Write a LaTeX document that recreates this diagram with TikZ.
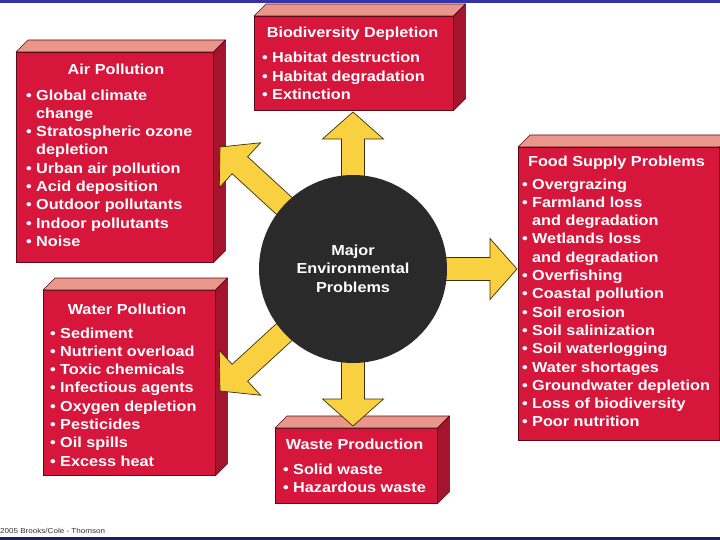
\documentclass[tikz,border=0pt]{standalone}
\usepackage{fontspec}
\setmainfont{Liberation Sans}
\newfontfamily\boxfont[FakeStretch=1.12]{Liberation Sans}
\usetikzlibrary{calc}
\pgfdeclarelayer{foreground}
\pgfsetlayers{main,foreground}
\definecolor{frontred}{HTML}{D6163B}
\definecolor{topsalmon}{HTML}{E9978A}
\definecolor{sidered}{HTML}{A3142E}
\definecolor{edgered}{HTML}{5A0A17}
\definecolor{arrowyel}{HTML}{F9D040}
\definecolor{arrowedge}{HTML}{3E2E06}
\definecolor{circgray}{HTML}{2A2A2A}
\definecolor{topblue}{HTML}{3434A6}
\definecolor{botblue}{HTML}{1E1E5A}
\newcommand\bul{\makebox[10pt][l]{•}}
\newcommand\ind{\hspace*{10pt}}
\newcommand\cube[1]{%
  \filldraw[topf] (#1.north west) -- ++(12,-12) -- ($(#1.north east)+(12,-12)$) -- (#1.north east) -- cycle;
  \filldraw[sidef] (#1.north east) -- ++(12,-12) -- ($(#1.south east)+(12,-12)$) -- (#1.south east) -- cycle;}
\newcommand\blockarrow[2]{%
  \path ($(#2)!27pt!(#1)$) coordinate (hb);
  \draw[arrowsty] ($(#1)!11.5pt!90:(#2)$) -- ($(hb)!11.5pt!-90:(#1)$) -- ($(hb)!30.5pt!-90:(#1)$) -- (#2)
    -- ($(hb)!30.5pt!90:(#1)$) -- ($(hb)!11.5pt!90:(#1)$) -- ($(#1)!11.5pt!-90:(#2)$) -- cycle;}
\begin{document}
\begin{tikzpicture}[x=1pt,y=-1pt,
  front/.style={draw=edgered, line width=0.6pt, fill=frontred, anchor=north west, inner sep=0pt},
  topf/.style={draw=edgered, line width=0.6pt, fill=topsalmon, line join=round},
  sidef/.style={draw=edgered, line width=0.6pt, fill=sidered, line join=round},
  boxtitle/.style={font=\fontsize{14.5}{18.3}\boxfont\bfseries\selectfont, text=white, anchor=base, inner sep=0pt},
  boxitems/.style={font=\fontsize{14.5}{18.3}\boxfont\bfseries\selectfont, text=white, anchor=base west, align=left, inner sep=0pt},
  arrowsty/.style={fill=arrowyel, draw=arrowedge, line width=0.7pt, line join=miter},
  ctext/.style={font=\fontsize{14.5}{18.5}\boxfont\bfseries\selectfont, text=white, anchor=base, align=center, inner sep=0pt}]
\fill[white] (0,0) rectangle (720,540);
\useasboundingbox (0,0) rectangle (720,540);
\fill[topblue] (0,0) rectangle (720,3.2);
\fill[botblue] (0,536.6) rectangle (720,540);
\node[font=\fontsize{7.2}{8}\boxfont\selectfont, text=black!80, anchor=base west, inner sep=0pt] (copy) at (0,533) {2005 Brooks/Cole - Thomson};
% central circle on top
\begin{pgfonlayer}{foreground}
\node[circle, fill=circgray, minimum size=188pt, inner sep=0pt] (c) at (353,269) {};
\node[ctext] (ct) at (353,292) {Major\\Environmental\\Problems};
\end{pgfonlayer}
% boxes
\node[front, minimum width=197pt, minimum height=210pt] (air) at (16,52) {};
\cube{air}
\node[front, minimum width=199pt, minimum height=94pt] (bio) at (254,16) {};
\cube{bio}
\node[front, minimum width=201pt, minimum height=293pt] (food) at (518,147) {};
\cube{food}
\node[front, minimum width=172pt, minimum height=185pt] (water) at (43,290) {};
\cube{water}
\node[front, minimum width=162pt, minimum height=75pt] (waste) at (275,428) {};
\cube{waste}
% texts (anchor base = baseline of last line)
\node[boxtitle] (airT) at (116,75) {Air Pollution};
\node[boxitems] (airL) at (26,246.4) {\bul Global climate\\\ind change\\\bul Stratospheric ozone\\\ind depletion\\\bul Urban air pollution\\\bul Acid deposition\\\bul Outdoor pollutants\\\bul Indoor pollutants\\\bul Noise};
\node[boxtitle] (bioT) at (352.5,38) {Biodiversity Depletion};
\node[boxitems] (bioL) at (262,99.6) {\bul Habitat destruction\\\bul Habitat degradation\\\bul Extinction};
\node[boxtitle] (foodT) at (616.5,167) {Food Supply Problems};
\node[boxitems] (foodL) at (522,426.9) {\bul Overgrazing\\\bul Farmland loss\\\ind and degradation\\\bul Wetlands loss\\\ind and degradation\\\bul Overfishing\\\bul Coastal pollution\\\bul Soil erosion\\\bul Soil salinization\\\bul Soil waterlogging\\\bul Water shortages\\\bul Groundwater depletion\\\bul Loss of biodiversity\\\bul Poor nutrition};
\node[boxtitle] (waterT) at (127,314) {Water Pollution};
\node[boxitems] (waterL) at (50,466.1) {\bul Sediment\\\bul Nutrient overload\\\bul Toxic chemicals\\\bul Infectious agents\\\bul Oxygen depletion\\\bul Pesticides\\\bul Oil spills\\\bul Excess heat};
\node[boxtitle] (wasteT) at (354.5,449) {Waste Production};
\node[boxitems] (wasteL) at (283,492.3) {\bul Solid waste\\\bul Hazardous waste};
% arrows
\coordinate (tN) at (353,112);
\coordinate (tE) at (517,269);
\coordinate (tS) at (353,426);
\coordinate (tNW) at (220,147);
\coordinate (tSW) at (220,391);
\blockarrow{c.center}{tN}
\blockarrow{c.center}{tE}
\blockarrow{c.center}{tS}
\blockarrow{c.center}{tNW}
\blockarrow{c.center}{tSW}
\end{tikzpicture}
\end{document}
